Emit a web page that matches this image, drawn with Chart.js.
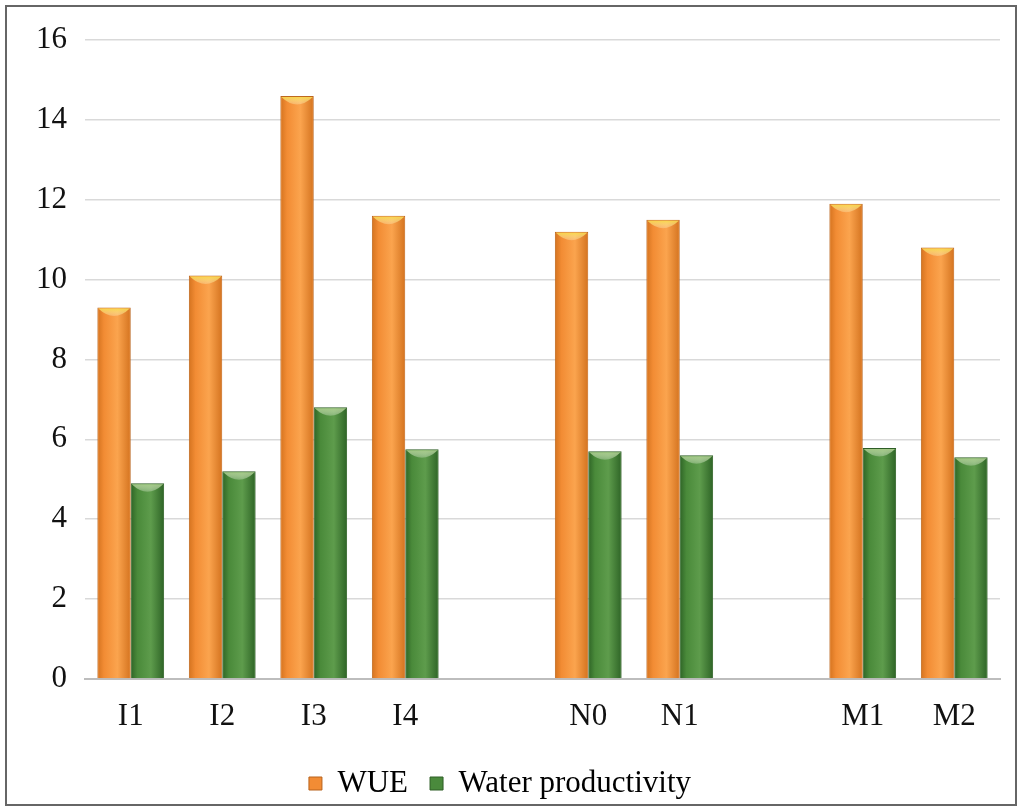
<!DOCTYPE html>
<html>
<head>
<meta charset="utf-8">
<script src="https://cdn.jsdelivr.net/npm/chart.js@4.4.1/dist/chart.umd.min.js"></script>
<style>
  body { margin: 0; background: #fff; }
  #wrap { position: relative; width: 1024px; height: 811px; }
  #frame { position: absolute; left: 5px; top: 5px; width: 1012px; height: 801px; border: 2px solid #666; box-sizing: border-box; }
  canvas { position: absolute; left: 0; top: 0; }
</style>
</head>
<body>
<div id="wrap">
  <div id="frame"></div>
  <canvas id="chart" width="1024" height="811"></canvas>
</div>
<script>
// Treatments (two blank slots separate the groups)
let categories = ["I1", "I2", "I3", "I4", "", "N0", "N1", "", "M1", "M2"];
let wueValues = [9.3, 10.1, 14.6, 11.6, null, 11.2, 11.5, null, 11.9, 10.8];
let wpValues = [4.9, 5.2, 6.8, 5.75, null, 5.7, 5.6, null, 5.78, 5.55];
let yTicks = [0, 2, 4, 6, 8, 10, 12, 14, 16];

// Shaded cylinder look: repaint each bar body with a horizontal gradient, then a lighter cap on top
const shadePlugin = {
    id: 'shade',
    afterDatasetsDraw(chart) {
        let c = chart.ctx;
        chart.data.datasets.forEach((ds, i) => {
            chart.getDatasetMeta(i).data.forEach((bar, j) => {
                if (ds.data[j] == null) return;
                let w = bar.width;
                let left = bar.x - w / 2;
                c.save();
                let g = c.createLinearGradient(left, 0, left + w, 0);
                g.addColorStop(0, ds.shade[0]);
                g.addColorStop(0.2, ds.shade[1]);
                g.addColorStop(0.6, ds.shade[2]);
                g.addColorStop(1, ds.shade[0]);
                c.fillStyle = g;
                c.fillRect(left + 1, bar.y + 1, w - 2, bar.base - bar.y - 1);
                let cap = c.createLinearGradient(0, bar.y, 0, bar.y + 12);
                cap.addColorStop(0, ds.capColor);
                cap.addColorStop(1, 'rgba(255,255,255,0)');
                c.fillStyle = cap;
                c.beginPath();
                c.moveTo(left + 1, bar.y + 1);
                c.lineTo(left + w - 1, bar.y + 1);
                c.quadraticCurveTo(bar.x, bar.y + 16, left + 1, bar.y + 1);
                c.fill();
                c.restore();
            });
        });
    }
};

let chart = new Chart(document.getElementById('chart'), {
    type: 'bar',
    data: {
        labels: categories,
        datasets: [{
            label: 'WUE',
            data: wueValues,
            backgroundColor: '#f28c34',
            shade: ['#d4731f', '#f28c34', '#fba44e'],
            borderColor: '#b8631c',
            borderWidth: 1,
            capColor: '#f8d83a',
            categoryPercentage: 0.73,
            barPercentage: 1
        }, {
            label: 'Water productivity',
            data: wpValues,
            backgroundColor: '#4a8a3c',
            shade: ['#2e6426', '#4a8a3a', '#5e9c4c'],
            borderColor: '#2e5e26',
            borderWidth: 1,
            capColor: '#a2c880',
            categoryPercentage: 0.73,
            barPercentage: 1
        }]
    },
    options: {
        responsive: false,
        animation: false,
        layout: { padding: { top: 40, right: 24, bottom: 2, left: 0 } },
        scales: {
            x: {
                grid: { display: false },
                border: { color: '#bdbdbd', width: 2 },
                ticks: { color: '#111', font: { family: 'Liberation Serif', size: 31 }, padding: 11 }
            },
            y: {
                min: 0,
                max: 16,
                afterBuildTicks: axis => { axis.ticks = yTicks.map(v => ({ value: v })); },
                afterFit: axis => { axis.width = 85; },
                grid: { color: '#d9d9d9', lineWidth: 1.5, drawTicks: false },
                border: { display: false },
                ticks: { color: '#111', font: { family: 'Liberation Serif', size: 31 }, padding: 18 }
            }
        },
        plugins: {
            legend: {
                position: 'bottom',
                labels: {
                    color: '#111',
                    font: { family: 'Liberation Serif', size: 31 },
                    boxWidth: 13,
                    boxHeight: 13,
                    padding: 22,
                    generateLabels: ch => ch.data.datasets.map((ds, i) => ({
                        text: ds.label,
                        fillStyle: i === 0 ? '#f28c34' : '#4a8a3c',
                        strokeStyle: i === 0 ? '#b8631c' : '#2e5e26',
                        lineWidth: 1,
                        datasetIndex: i
                    }))
                }
            },
            tooltip: { enabled: false }
        }
    },
    plugins: [shadePlugin]
});
</script>
</body>
</html>
